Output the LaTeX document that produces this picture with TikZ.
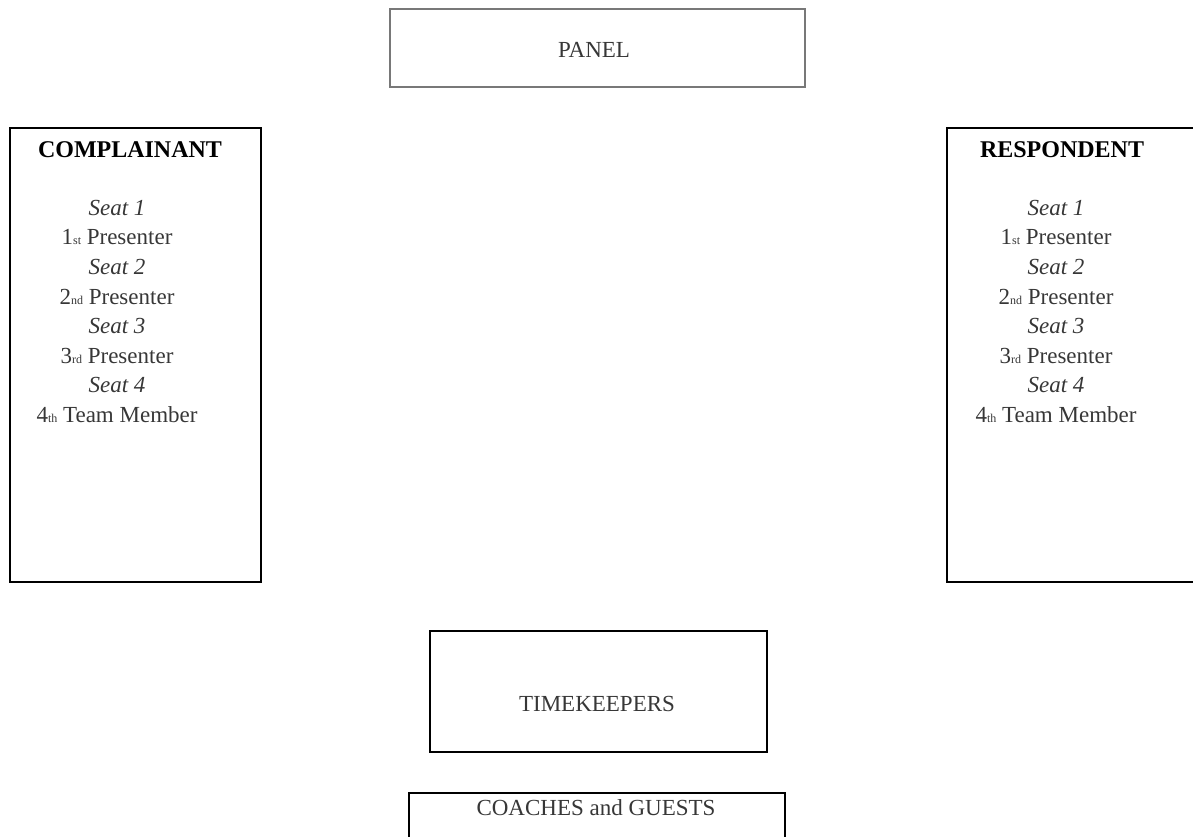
\documentclass[tikz,border=0pt]{standalone}
\usepackage{fontspec}
\setmainfont{Liberation Serif}
\usepackage{tikz}
\definecolor{Txt}{RGB}{55,55,55}
\definecolor{Pnl}{RGB}{120,120,120}

\newcommand{\ordn}[2]{#1{\fontsize{6}{6}\selectfont #2}}

\begin{document}
\begin{tikzpicture}[x=0.5pt,y=-0.5pt,
    box/.style={draw=black,line width=0.8pt,inner sep=0pt,anchor=north west},
    lbl/.style={text=Txt,inner sep=0pt,font=\fontsize{11.5}{14}\selectfont},
    seat/.style={lbl,font=\fontsize{11.5}{14}\selectfont\itshape},
    head/.style={text=black,inner sep=0pt,font=\fontsize{12}{14}\selectfont\bfseries}]
    \useasboundingbox (0,0) rectangle (1193,836);

    % boxes
    \node [box,draw=Pnl,line width=1pt,minimum width=207.5pt,minimum height=39pt] (panel) at (389,8) {};
    \node [box,minimum width=125.5pt,minimum height=227pt] (compl) at (9,127) {};
    \node [box,minimum width=125.5pt,minimum height=227pt] (resp) at (946,127) {};
    \node [box,minimum width=168.5pt,minimum height=60.5pt] (timek) at (429,630) {};
    \node [box,minimum width=188pt,minimum height=40pt] (coach) at (408,792) {};

    % labels
    \node [lbl] (panel-txt) at (594,50) {PANEL};
    \node [lbl] (timek-txt) at (597,704) {TIMEKEEPERS};
    \node [lbl] (coach-txt) at (596,808) {COACHES and GUESTS};
    \node [head] (compl-head) at (130,150) {COMPLAINANT};
    \node [head] (resp-head) at (1062,150) {RESPONDENT};

    % seats
    \foreach \cx/\sd in {117/compl,1056/resp} {
        \node [seat] (\sd-s1) at (\cx,208) {Seat 1};
        \node [lbl]  (\sd-p1) at (\cx,237.5) {\ordn{1}{st} Presenter};
        \node [seat] (\sd-s2) at (\cx,267) {Seat 2};
        \node [lbl]  (\sd-p2) at (\cx,296.5) {\ordn{2}{nd} Presenter};
        \node [seat] (\sd-s3) at (\cx,326) {Seat 3};
        \node [lbl]  (\sd-p3) at (\cx,355.5) {\ordn{3}{rd} Presenter};
        \node [seat] (\sd-s4) at (\cx,385) {Seat 4};
        \node [lbl]  (\sd-p4) at (\cx,414.5) {\ordn{4}{th} Team Member};
    }
\end{tikzpicture}
\end{document}
